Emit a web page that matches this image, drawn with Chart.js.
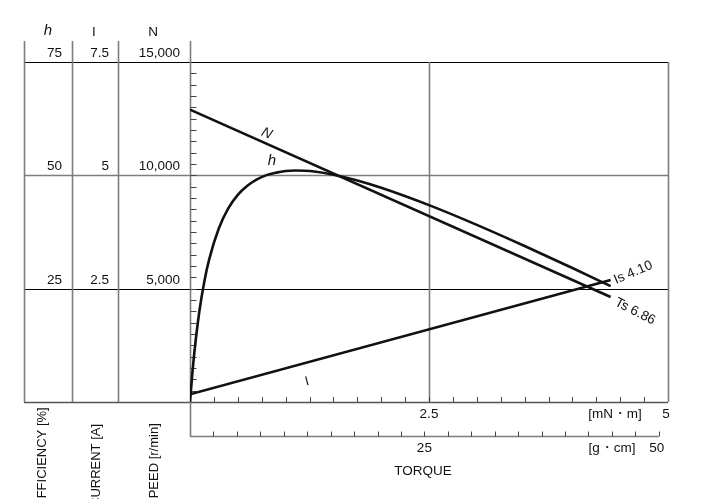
<!DOCTYPE html>
<html>
<head>
<meta charset="utf-8">
<script src="https://cdn.jsdelivr.net/npm/chart.js@4/dist/chart.umd.min.js"></script>
<style>
  html, body { margin: 0; padding: 0; background: #fff; }
  #wrap { width: 706px; height: 499px; position: relative; }
</style>
</head>
<body>
<div id="wrap"><canvas id="c" width="706" height="499"></canvas></div>
<script>
// ---- data (torque in mN·m) ----
const torqueEff   = [0, 0.025, 0.05, 0.1, 0.15, 0.2, 0.3, 0.4, 0.5, 0.6, 0.7, 0.8, 0.9, 1.0, 1.1, 1.2, 1.3, 1.5, 1.75, 2.0, 2.5, 3.0, 3.5, 4.0, 4.4];
const efficiency  = [0, 6.4, 11.8, 20.3, 26.6, 31.4, 38.2, 42.7, 45.7, 47.7, 49.1, 50.05, 50.6, 50.96, 51.07, 51.01, 50.83, 50.14, 48.86, 47.25, 43.42, 39.07, 34.41, 29.55, 25.57];
const torqueLine  = [0, 4.4];
const speed       = [12900, 4630];
const current     = [0.17, 2.69];

// ---- axis tick labels ----
const effTicks    = ['75', '50', '25'];
const curTicks    = ['7.5', '5', '2.5'];
const spdTicks    = ['15,000', '10,000', '5,000'];
const spdTickVals = [15000, 10000, 5000];
const effTitle = 'EFFICIENCY [%]', curTitle = 'CURRENT [A]', spdTitle = 'SPEED [r/min]';
const stallCurrentLabel = 'Is 4.10', stallTorqueLabel = 'Ts 6.86';
const GCM_PER_MNM = 1 / 0.0980665;

const FONT = '"Liberation Sans", Arial, Helvetica, sans-serif';

const pts = (xs, ys) => xs.map((x, i) => ({ x, y: ys[i] }));

const chrome = {
  id: 'chrome',
  beforeDatasetsDraw(chart) {
    const ctx = chart.ctx, x = chart.scales.x, y = chart.scales.yN, xg = chart.scales.xg;
    const ca = chart.chartArea;
    const colX = [24, 72, 118];
    const gray = '#7d7d7d';
    ctx.save();
    // horizontal grid lines (extend into the scale columns)
    [[15000, '#000', 1], [10000, gray, 1.6], [5000, '#000', 1], [0, '#555', 1.6]].forEach(([v, c, w]) => {
      const py = Math.round(y.getPixelForValue(v)) + 0.5;
      ctx.strokeStyle = c; ctx.lineWidth = w;
      ctx.beginPath(); ctx.moveTo(colX[0], py); ctx.lineTo(ca.right, py); ctx.stroke();
    });
    // vertical grid lines
    [2.5, 5].forEach(v => {
      const px = Math.round(x.getPixelForValue(v)) + 0.5;
      ctx.strokeStyle = gray; ctx.lineWidth = 1.6;
      ctx.beginPath(); ctx.moveTo(px, ca.top); ctx.lineTo(px, ca.bottom); ctx.stroke();
    });
    // column lines
    ctx.strokeStyle = gray; ctx.lineWidth = 1.6;
    colX.forEach(cx => {
      ctx.beginPath(); ctx.moveTo(cx + 0.5, 41); ctx.lineTo(cx + 0.5, ca.bottom); ctx.stroke();
    });
    // main left axis
    const ax = Math.round(x.getPixelForValue(0)) + 0.5;
    ctx.beginPath(); ctx.moveTo(ax, 41); ctx.lineTo(ax, 437); ctx.stroke();
    // left axis minor ticks every 500 r/min
    ctx.strokeStyle = '#444'; ctx.lineWidth = 1;
    for (let v = 500; v < 15000; v += 500) {
      const py = Math.round(y.getPixelForValue(v)) + 0.5;
      ctx.beginPath(); ctx.moveTo(ax, py); ctx.lineTo(ax + 6, py); ctx.stroke();
    }
    // mN·m ticks every 0.25
    for (let v = 0.25; v < 5; v += 0.25) {
      const px = Math.round(x.getPixelForValue(v)) + 0.5;
      ctx.beginPath(); ctx.moveTo(px, ca.bottom); ctx.lineTo(px, ca.bottom - 5); ctx.stroke();
    }
    // g·cm axis
    const gy = 436.5;
    ctx.strokeStyle = gray; ctx.lineWidth = 1.6;
    ctx.beginPath(); ctx.moveTo(ax, gy); ctx.lineTo(xg.getPixelForValue(50), gy); ctx.stroke();
    ctx.strokeStyle = '#444'; ctx.lineWidth = 1;
    for (let v = 2.5; v <= 50.01; v += 2.5) {
      const px = Math.round(xg.getPixelForValue(v)) + 0.5;
      ctx.beginPath(); ctx.moveTo(px, gy); ctx.lineTo(px, gy - 5); ctx.stroke();
    }
    ctx.restore();
  },
  afterDatasetsDraw(chart) {
    const ctx = chart.ctx, x = chart.scales.x, y = chart.scales.yN, xg = chart.scales.xg;
    ctx.save();
    ctx.fillStyle = '#111';
    ctx.textBaseline = 'alphabetic';
    // headers
    ctx.textAlign = 'center';
    ctx.font = 'italic 15px ' + FONT; ctx.fillText('h', 48, 35);
    ctx.font = '13.5px ' + FONT; ctx.fillText('I', 94, 35.5); ctx.fillText('N', 153, 35.5);
    // tick labels in columns
    ctx.textAlign = 'right';
    spdTickVals.forEach((v, i) => {
      const py = y.getPixelForValue(v) - 5;
      ctx.fillText(effTicks[i], 62, py);
      ctx.fillText(curTicks[i], 109, py);
      ctx.fillText(spdTicks[i], 180, py);
    });
    // bottom axis labels
    ctx.textAlign = 'center';
    ctx.fillText('2.5', x.getPixelForValue(2.5), 418);
    ctx.fillText('5', x.getPixelForValue(5) - 2, 418);
    ctx.fillText('[mN\u30FBm]', 615, 418);
    ctx.fillText('25', xg.getPixelForValue(25), 452);
    ctx.fillText('50', xg.getPixelForValue(50) - 2, 452);
    ctx.fillText('[g\u30FBcm]', 612, 452);
    ctx.fillText('TORQUE', 423, 475);
    // rotated column titles
    ctx.textAlign = 'left';
    ctx.font = '13px ' + FONT;
    [[effTitle, 46], [curTitle, 100], [spdTitle, 158]].forEach(([t, bx]) => {
      ctx.save(); ctx.translate(bx, 507); ctx.rotate(-Math.PI / 2); ctx.fillText(t, 0, 0); ctx.restore();
    });
    // curve labels
    const lbl = (t, px, py, deg, font, align) => {
      ctx.save(); ctx.translate(px, py); ctx.rotate(deg * Math.PI / 180);
      ctx.font = font; ctx.textAlign = align || 'left'; ctx.fillText(t, 0, 0); ctx.restore();
    };
    lbl('N', 265, 137, 24, 'italic 14px ' + FONT, 'center');
    lbl('h', 272, 165, 0, 'italic 15px ' + FONT, 'center');
    lbl('I', 308, 385, -15, '13px ' + FONT, 'center');
    lbl(stallCurrentLabel, 616, 284, -23, '13.5px ' + FONT);
    lbl(stallTorqueLabel, 614, 305, 27, '13.5px ' + FONT);
    ctx.restore();
  }
};

const lineStyle = { borderColor: '#111', borderWidth: 2.6, pointRadius: 0, fill: false, showLine: true };

new Chart(document.getElementById('c'), {
  type: 'scatter',
  data: {
    datasets: [
      Object.assign({ label: 'N', data: pts(torqueLine, speed), yAxisID: 'yN', xAxisID: 'x' }, lineStyle),
      Object.assign({ label: 'h', data: pts(torqueEff, efficiency), yAxisID: 'yH', xAxisID: 'x', cubicInterpolationMode: 'monotone' }, lineStyle),
      Object.assign({ label: 'I', data: pts(torqueLine, current), yAxisID: 'yI', xAxisID: 'x' }, lineStyle)
    ]
  },
  options: {
    responsive: false,
    animation: false,
    devicePixelRatio: 1,
    layout: { padding: { left: 190, right: 38, top: 62, bottom: 97 } },
    plugins: { legend: { display: false }, tooltip: { enabled: false } },
    scales: {
      x:  { type: 'linear', min: 0, max: 5, display: false },
      xg: { type: 'linear', axis: 'x', position: 'bottom', min: 0, max: 5 * GCM_PER_MNM, display: false },
      yN: { type: 'linear', min: 0, max: 15000, display: false },
      yI: { type: 'linear', min: 0, max: 7.5, display: false },
      yH: { type: 'linear', min: 0, max: 75, display: false }
    }
  },
  plugins: [chrome]
});
</script>
</body>
</html>
